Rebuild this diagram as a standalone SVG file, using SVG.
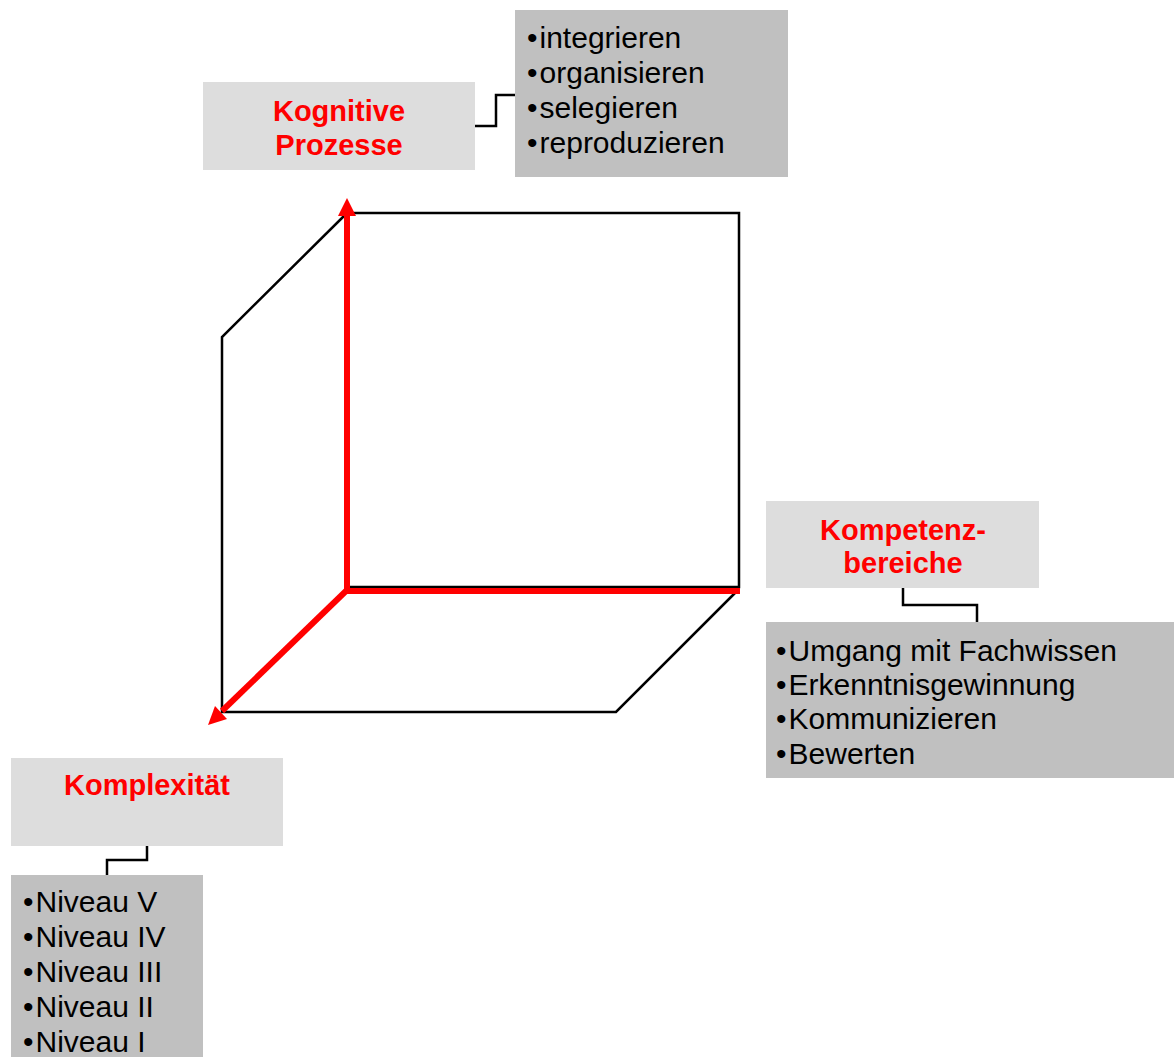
<svg xmlns="http://www.w3.org/2000/svg" width="1174" height="1057" viewBox="0 0 1174 1057">
<style>
.title{font-family:"Liberation Sans",Arial,sans-serif;font-weight:bold;font-size:29px;fill:#ff0000;text-anchor:middle}
.item{font-family:"Liberation Sans",Arial,sans-serif;font-size:30px;fill:#000}
.light{fill:#dddddd}
.dark{fill:#c0c0c0}
.conn{fill:none;stroke:#000;stroke-width:2.5}
.edge{fill:none;stroke:#000;stroke-width:2.5;stroke-linejoin:miter}
.axis{fill:none;stroke:#ff0000;stroke-width:6}
.head{fill:#ff0000}
</style>
<rect width="1174" height="1057" fill="#fff"/>
<g id="cube">
<polyline class="edge" points="347,213 739,213 739,587 347,587"/>
<polyline class="edge" points="347,213 222,337 222,712 616,712 737,591"/>
</g>
<g id="axes">
<line class="axis" x1="347" y1="594" x2="347" y2="214"/>
<polygon class="head" points="347,198 338,216 356,216"/>
<line class="axis" x1="344" y1="591" x2="740" y2="591"/>
<line class="axis" x1="346" y1="591" x2="222" y2="711"/>
<polygon class="head" points="208,725 227,719 215,706"/>
</g>
<g id="connectors">
<polyline class="conn" points="475,126 496,126 496,95 515,95"/>
<polyline class="conn" points="903,588 903,605 977,605 977,622"/>
<polyline class="conn" points="147,846 147,860 107,860 107,875"/>
</g>
<g id="kognitive-prozesse">
<rect class="light" x="203" y="82" width="272" height="88"/>
<text class="title" x="339" y="121">Kognitive</text>
<text class="title" x="339" y="155">Prozesse</text>
</g>
<g id="kognitive-liste">
<rect class="dark" x="515" y="10" width="273" height="167"/>
<text class="item" x="527" y="48">•<tspan dx="2">integrieren</tspan></text>
<text class="item" x="527" y="83">•<tspan dx="2">organisieren</tspan></text>
<text class="item" x="527" y="118">•<tspan dx="2">selegieren</tspan></text>
<text class="item" x="527" y="153">•<tspan dx="2">reproduzieren</tspan></text>
</g>
<g id="kompetenzbereiche">
<rect class="light" x="766" y="501" width="273" height="87"/>
<text class="title" x="903" y="540">Kompetenz-</text>
<text class="title" x="903" y="573">bereiche</text>
</g>
<g id="kompetenz-liste">
<rect class="dark" x="766" y="622" width="408" height="156"/>
<text class="item" x="776" y="661">•<tspan dx="2">Umgang mit Fachwissen</tspan></text>
<text class="item" x="776" y="695">•<tspan dx="2">Erkenntnisgewinnung</tspan></text>
<text class="item" x="776" y="729">•<tspan dx="2">Kommunizieren</tspan></text>
<text class="item" x="776" y="764">•<tspan dx="2">Bewerten</tspan></text>
</g>
<g id="komplexitaet">
<rect class="light" x="11" y="758" width="272" height="88"/>
<text class="title" x="147" y="795">Komplexität</text>
</g>
<g id="komplexitaet-liste">
<rect class="dark" x="11" y="875" width="192" height="182"/>
<text class="item" x="23" y="912">•<tspan dx="2">Niveau V</tspan></text>
<text class="item" x="23" y="947">•<tspan dx="2">Niveau IV</tspan></text>
<text class="item" x="23" y="982">•<tspan dx="2">Niveau III</tspan></text>
<text class="item" x="23" y="1017">•<tspan dx="2">Niveau II</tspan></text>
<text class="item" x="23" y="1052">•<tspan dx="2">Niveau I</tspan></text>
</g>
</svg>
